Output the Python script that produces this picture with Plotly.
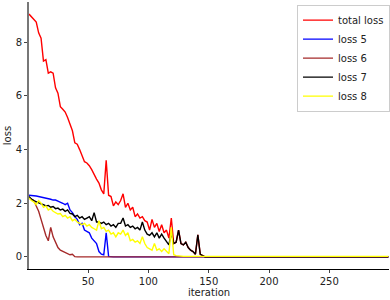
import plotly.graph_objects as go

iteration = list(range(1, 150, 2)) + [151, 299]

total_loss = [9.05, 8.95, 8.85, 8.75, 8.35, 8.15, 7.3, 7.35, 6.85, 6.9,
              6.85, 6.3, 6.1, 5.6, 5.5, 5.4, 5.2, 4.95, 4.7, 4.25,
              4.2, 4.0, 3.8, 3.55, 3.5, 3.4, 3.25, 3.05, 2.9, 2.75,
              2.5, 2.35, 3.6, 2.3, 2.25, 1.9, 2.05, 1.95, 2.1, 2.35,
              1.85, 2.0, 1.75, 1.85, 1.5, 1.6, 1.45, 1.5, 1.35, 1.3,
              1.0, 1.4, 1.1, 1.25, 0.95, 1.2, 0.9, 1.0, 0.7, 1.45,
              0.5, 0.55, 1.0, 0.5, 0.45, 0.55, 0.35, 0.25, 0.2, 0.1,
              0.82, 0.1, 0.05, 0.0, 0.0, 0.0, 0.0]

loss5 = [2.3, 2.3, 2.28, 2.27, 2.25, 2.25, 2.22, 2.2, 2.18, 2.15,
         2.12, 2.12, 2.08, 2.05, 2.0, 1.95, 2.0, 1.75, 1.65, 1.5,
         1.4, 1.2, 1.25, 1.0, 0.95, 0.9, 0.7, 0.6, 0.5, 0.2,
         0.1, 0.08, 0.9, 0.02, 0.0, 0.0, 0.0, 0.0, 0.0, 0.0,
         0.0, 0.0, 0.0, 0.0, 0.0, 0.0, 0.0, 0.0, 0.0, 0.0,
         0.0, 0.0, 0.0, 0.0, 0.0, 0.0, 0.0, 0.0, 0.0, 0.0,
         0.0, 0.0, 0.0, 0.0, 0.0, 0.0, 0.0, 0.0, 0.0, 0.0,
         0.0, 0.0, 0.0, 0.0, 0.0, 0.0, 0.0]

loss6 = [2.2, 2.15, 2.1, 1.9, 1.7, 1.4, 1.1, 0.8, 0.6, 1.1,
         0.75, 0.55, 0.35, 0.25, 0.2, 0.15, 0.12, 0.08, 0.1, 0.01,
         0.0, 0.0, 0.0, 0.0, 0.0, 0.0, 0.0, 0.0, 0.0, 0.0,
         0.0, 0.0, 0.0, 0.0, 0.0, 0.0, 0.0, 0.0, 0.0, 0.0,
         0.0, 0.0, 0.0, 0.0, 0.0, 0.0, 0.0, 0.0, 0.0, 0.0,
         0.0, 0.0, 0.0, 0.0, 0.0, 0.0, 0.0, 0.0, 0.0, 0.0,
         0.0, 0.0, 0.0, 0.0, 0.0, 0.0, 0.0, 0.0, 0.0, 0.0,
         0.0, 0.0, 0.0, 0.0, 0.0, 0.0, 0.0]

loss7 = [2.25, 2.15, 2.1, 2.05, 2.0, 1.98, 1.95, 1.9, 1.92, 1.85,
         1.88, 1.8, 1.82, 1.75, 1.78, 1.7, 1.75, 1.62, 1.6, 1.5,
         1.55, 1.45, 1.5, 1.4, 1.45, 1.5, 1.35, 1.65, 1.3, 1.3,
         1.25, 1.3, 1.2, 1.25, 1.15, 1.2, 1.1, 1.25, 1.25, 1.45,
         1.15, 1.2, 1.1, 1.15, 1.05, 1.1, 1.0, 1.3, 1.0, 0.85,
         0.8, 0.9, 0.75, 0.9, 0.7, 0.85, 0.7, 0.55, 0.45, 0.9,
         0.5, 0.55, 1.0, 0.5, 0.45, 0.55, 0.35, 0.25, 0.2, 0.1,
         0.82, 0.1, 0.05, 0.0, 0.0, 0.0, 0.0]

loss8 = [2.2, 2.1, 2.05, 1.95, 2.1, 2.0, 1.85, 1.9, 1.75, 1.8,
         1.7, 1.65, 1.6, 1.62, 1.5, 1.55, 1.45, 1.5, 1.35, 1.4,
         1.3, 1.25, 1.2, 1.25, 1.15, 1.2, 1.1, 1.05, 1.0, 1.35,
         1.05, 1.1, 0.95, 1.0, 0.85, 0.9, 0.75, 0.9, 0.85, 1.0,
         0.8, 0.9, 0.6, 0.65, 0.55, 0.6, 0.5, 0.75, 0.5, 0.35,
         0.3, 0.25, 0.5, 0.25, 0.3, 0.2, 0.3, 0.2, 0.12, 1.1,
         0.08, 0.05, 0.05, 0.03, 0.02, 0.02, 0.02, 0.02, 0.02, 0.02,
         0.02, 0.02, 0.02, 0.02, 0.02, 0.02, 0.02]

series = [
    ("total loss", total_loss, "red"),
    ("loss 5", loss5, "blue"),
    ("loss 6", loss6, "#a52a2a"),
    ("loss 7", loss7, "black"),
    ("loss 8", loss8, "yellow"),
]

x_ticks = [50, 100, 150, 200, 250]
y_ticks = [0, 2, 4, 6, 8]

fig = go.Figure()
for name, vals, color in series:
    fig.add_trace(go.Scatter(x=iteration, y=vals, mode="lines", name=name,
                             line=dict(color=color, width=1.4)))

font = dict(family="DejaVu Sans", size=10, color="#222")
fig.update_layout(
    width=390, height=300,
    margin=dict(l=29, r=0, t=2, b=31),
    paper_bgcolor="white", plot_bgcolor="white",
    font=font,
    showlegend=True,
    legend=dict(x=0.745, y=0.99, xanchor="left", yanchor="top",
                bgcolor="white", bordercolor="#cccccc", borderwidth=1,
                font=dict(family="DejaVu Sans", size=10, color="#222"),
                itemwidth=30, tracegroupgap=0),
    xaxis=dict(range=[1, 299.5], tickvals=x_ticks, ticks="outside", ticklen=3,
               showline=True, linecolor="black", linewidth=1.2, showgrid=False,
               zeroline=False, automargin=False,
               title=dict(text="iteration", standoff=1, font=dict(size=10))),
    yaxis=dict(range=[-0.45, 9.5], tickvals=y_ticks, ticks="outside", ticklen=3,
               showline=True, linecolor="#777", linewidth=2, showgrid=False,
               zeroline=False, automargin=False,
               title=dict(text="loss", standoff=2, font=dict(size=10))),
)
fig.write_html("out.html",
               config={"displayModeBar": False},
               post_script="document.body.style.margin='0px';")
